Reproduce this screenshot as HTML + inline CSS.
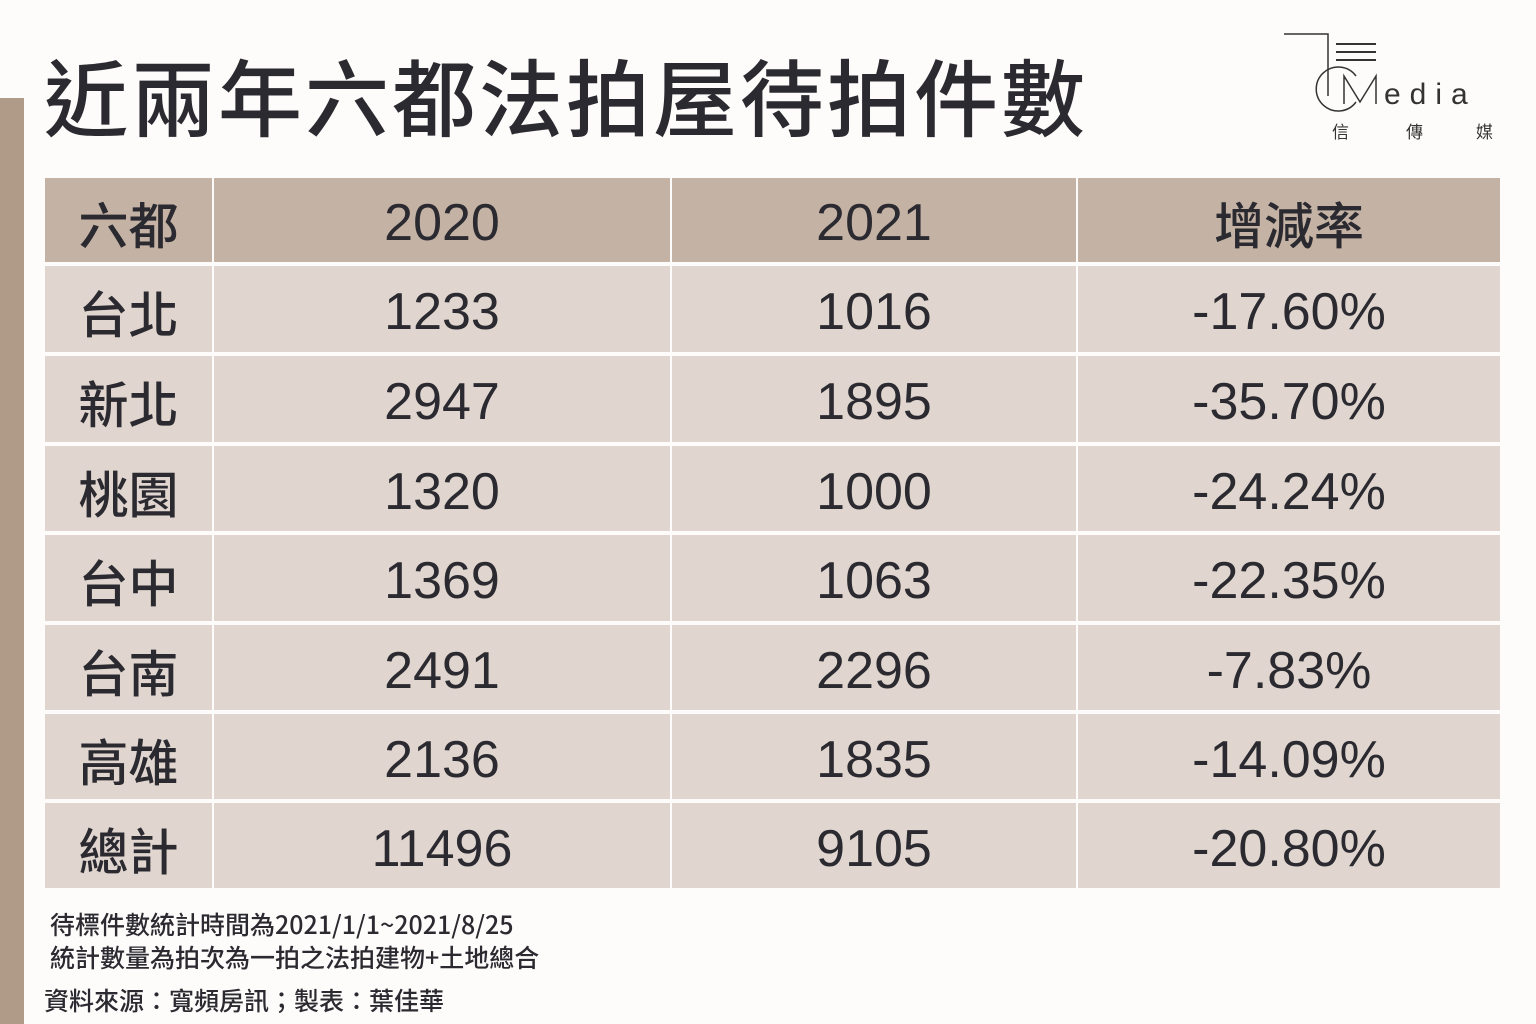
<!DOCTYPE html>
<html><head><meta charset="utf-8"><style>
body{margin:0;width:1536px;height:1024px;background:#fefcfa;position:relative;overflow:hidden;font-family:"Liberation Sans","Noto Sans CJK TC",sans-serif;color:#2b2a30}
.bar{position:absolute;left:0;top:98px;width:24px;height:926px;background:#b09a88}
.title{position:absolute;left:44px;top:40px;font-family:"Noto Sans CJK TC",sans-serif;font-size:84px;font-weight:500;line-height:110px;letter-spacing:3px;white-space:nowrap}
.c{position:absolute;display:flex;align-items:center;justify-content:center;font-size:50px;font-family:"Noto Sans CJK TC",sans-serif;font-weight:500;box-sizing:border-box;padding-top:6px}
.c.n{font-family:"Liberation Sans","Noto Sans CJK TC",sans-serif;font-size:52px;font-weight:400}
.h{background:#c4b3a5}
.b{background:#e0d6cf}
.note{position:absolute;left:50px;font-family:"Noto Sans CJK TC",sans-serif;font-size:25px;font-weight:500;line-height:32px;white-space:nowrap}
</style></head><body>
<div class="bar"></div>
<div class="title">近兩年六都法拍屋待拍件數</div>
<svg style="position:absolute;left:1280px;top:30px" width="230" height="115">
<polyline points="4,4 48,4 48,66" fill="none" stroke="#333" stroke-width="1.5"/>
<line x1="56" y1="14" x2="96" y2="14" stroke="#333" stroke-width="2"/>
<line x1="56" y1="22" x2="96" y2="22" stroke="#333" stroke-width="2"/>
<line x1="56" y1="30" x2="96" y2="30" stroke="#333" stroke-width="2"/>
<path d="M76 46 A22 22 0 1 0 76 72" fill="none" stroke="#333" stroke-width="1.5"/>
<polyline points="64,74 64,46 80,72 96,46 96,74" fill="none" stroke="#333" stroke-width="1.5"/>
<text x="104" y="74" font-family="Liberation Sans" font-size="30" letter-spacing="9" fill="#333">edia</text>
<text x="52" y="108" font-family="Noto Sans CJK TC" font-size="17" fill="#333">信</text>
<text x="126" y="108" font-family="Noto Sans CJK TC" font-size="17" fill="#333">傳</text>
<text x="196" y="108" font-family="Noto Sans CJK TC" font-size="17" fill="#333">媒</text>
</svg>
<div id="t"></div>
<div class="note" style="top:908px">待標件數統計時間為2021/1/1~2021/8/25</div>
<div class="note" style="top:941px">統計數量為拍次為一拍之法拍建物+土地總合</div>
<div class="note" style="top:984px;left:44px">資料來源：寬頻房訊；製表：葉佳華</div>
<script>
var cols=[[45,167],[214,456],[672,404],[1078,422]];
var rows=[["六都","2020","2021","增減率"],["台北","1233","1016","-17.60%"],["新北","2947","1895","-35.70%"],["桃園","1320","1000","-24.24%"],["台中","1369","1063","-22.35%"],["台南","2491","2296","-7.83%"],["高雄","2136","1835","-14.09%"],["總計","11496","9105","-20.80%"]];
var tops=[178,266,356,446,535,625,714,803];
var hs=[84,86,86,85,86,85,85,85];
var h="";
for(var r=0;r<8;r++)for(var c=0;c<4;c++){
 var cls="c "+(r==0?"h":"b")+((c>0&&!(r==0&&c==3))?" n":"");
 h+='<div class="'+cls+'" style="left:'+cols[c][0]+'px;top:'+tops[r]+'px;width:'+cols[c][1]+'px;height:'+hs[r]+'px">'+rows[r][c]+'</div>';
}
document.getElementById("t").innerHTML=h;
</script>
</body></html>
